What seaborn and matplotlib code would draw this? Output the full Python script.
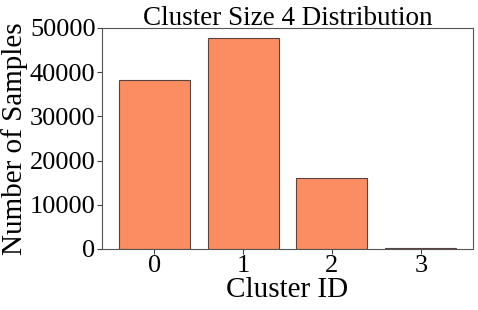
import pandas as pd
import matplotlib
matplotlib.use("Agg")
import matplotlib.pyplot as plt
import seaborn as sns

# Datos
cluster_ids = ["0", "1", "2", "3"]
sample_counts = [38300, 47650, 16050, 120]

df = pd.DataFrame({"Cluster ID": cluster_ids, "Number of Samples": sample_counts})

sns.set_style("white", {"text.color": "black", "xtick.color": "#444444",
                        "ytick.color": "#444444", "axes.labelcolor": "black"})
plt.rcParams["font.family"] = ["Liberation Serif", "DejaVu Serif"]

fig = plt.figure(figsize=(4.78, 3.10), dpi=100)
ax = fig.add_axes([0.213, 0.197, 0.777, 0.713])

sns.barplot(data=df, x="Cluster ID", y="Number of Samples", color="#fc8d62",
            saturation=1, edgecolor="#5a4440", linewidth=0.8, width=0.8, ax=ax)

ax.set_xlim(-0.59, 3.59)
ax.set_ylim(0, 50000)
ax.set_yticks([0, 10000, 20000, 30000, 40000, 50000])

ax.set_title("Cluster Size 4 Distribution", fontsize=19.5, pad=2, color="black")
ax.set_xlabel("Cluster ID", fontsize=21, labelpad=0, color="black")
ax.set_ylabel("Number of Samples", fontsize=21, labelpad=1, color="black")
ax.tick_params(axis="both", labelsize=19, length=3.5, width=0.8, color="#444444",
               labelcolor="black", direction="out", bottom=True, left=True, pad=1)

for s in ax.spines.values():
    s.set_color("#555555")
    s.set_linewidth(0.8)

fig.savefig("out.png", dpi=100)
